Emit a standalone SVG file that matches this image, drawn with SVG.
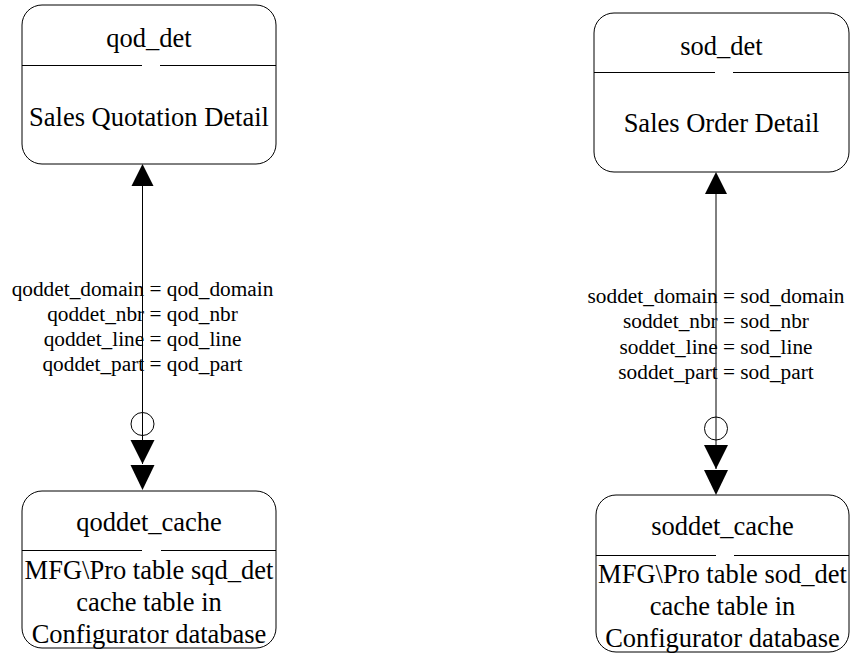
<svg xmlns="http://www.w3.org/2000/svg" width="854" height="653" viewBox="0 0 854 653">
<style>
.box{fill:#fff;stroke:#000;stroke-width:1}
.div{stroke:#000;stroke-width:1}
.t{font-family:"Liberation Serif","Times New Roman",serif;font-size:26.5px;fill:#000;text-anchor:middle}
.l{font-family:"Liberation Serif","Times New Roman",serif;font-size:21.3px;fill:#000;text-anchor:middle}
.c{stroke:#000;stroke-width:1;fill:none}
.ah{fill:#000;stroke:none}
</style>
<rect width="854" height="653" fill="#fff"/>
<g id="qod_det">
<rect class="box" x="22" y="5" width="254" height="159" rx="20" ry="20"/>
<line class="div" x1="22" y1="65.5" x2="142" y2="65.5"/>
<line class="div" x1="160" y1="65.5" x2="276" y2="65.5"/>
<text class="t" x="149" y="47">qod_det</text>
<text class="t" x="149" y="126">Sales Quotation Detail</text>
</g>
<g id="sod_det">
<rect class="box" x="594" y="13" width="255" height="159" rx="20" ry="20"/>
<line class="div" x1="594" y1="72.5" x2="715" y2="72.5"/>
<line class="div" x1="733" y1="72.5" x2="849" y2="72.5"/>
<text class="t" x="721.5" y="55">sod_det</text>
<text class="t" x="721.5" y="132">Sales Order Detail</text>
</g>
<g id="qoddet_cache">
<rect class="box" x="22" y="491" width="254" height="157" rx="20" ry="20"/>
<line class="div" x1="22" y1="550.5" x2="142" y2="550.5"/>
<line class="div" x1="161" y1="550.5" x2="276" y2="550.5"/>
<text class="t" x="149" y="531">qoddet_cache</text>
<text class="t" x="149" y="579">MFG\Pro table sqd_det</text>
<text class="t" x="149" y="611">cache table in</text>
<text class="t" x="149" y="643">Configurator database</text>
</g>
<g id="soddet_cache">
<rect class="box" x="596" y="495" width="253" height="157" rx="20" ry="20"/>
<line class="div" x1="596" y1="555.5" x2="716" y2="555.5"/>
<line class="div" x1="734" y1="555.5" x2="849" y2="555.5"/>
<text class="t" x="722.5" y="535">soddet_cache</text>
<text class="t" x="722.5" y="583">MFG\Pro table sod_det</text>
<text class="t" x="722.5" y="615">cache table in</text>
<text class="t" x="722.5" y="647">Configurator database</text>
</g>
<g id="labels">
<text class="l" x="142.5" y="296">qoddet_domain = qod_domain</text>
<text class="l" x="142.5" y="321">qoddet_nbr = qod_nbr</text>
<text class="l" x="142.5" y="346">qoddet_line = qod_line</text>
<text class="l" x="142.5" y="371">qoddet_part = qod_part</text>
<text class="l" x="716" y="303">soddet_domain = sod_domain</text>
<text class="l" x="716" y="328">soddet_nbr = sod_nbr</text>
<text class="l" x="716" y="353.5">soddet_line = sod_line</text>
<text class="l" x="716" y="379">soddet_part = sod_part</text>
</g>
<g id="connectors">
<line class="c" x1="142.5" y1="186" x2="142.5" y2="464"/>
<polygon class="ah" points="142.5,164 131.5,186 153.5,186"/>
<circle class="c" cx="142.5" cy="424" r="11.5"/>
<polygon class="ah" points="130.5,440 154.5,440 142.5,464"/>
<polygon class="ah" points="130.5,465 154.5,465 142.5,490"/>
<line class="c" x1="716" y1="194" x2="716" y2="469"/>
<polygon class="ah" points="716,172 705,194 727,194"/>
<circle class="c" cx="716" cy="428.5" r="11.5"/>
<polygon class="ah" points="704,445 728,445 716,469"/>
<polygon class="ah" points="704,470 728,470 716,495"/>
</g>
</svg>
